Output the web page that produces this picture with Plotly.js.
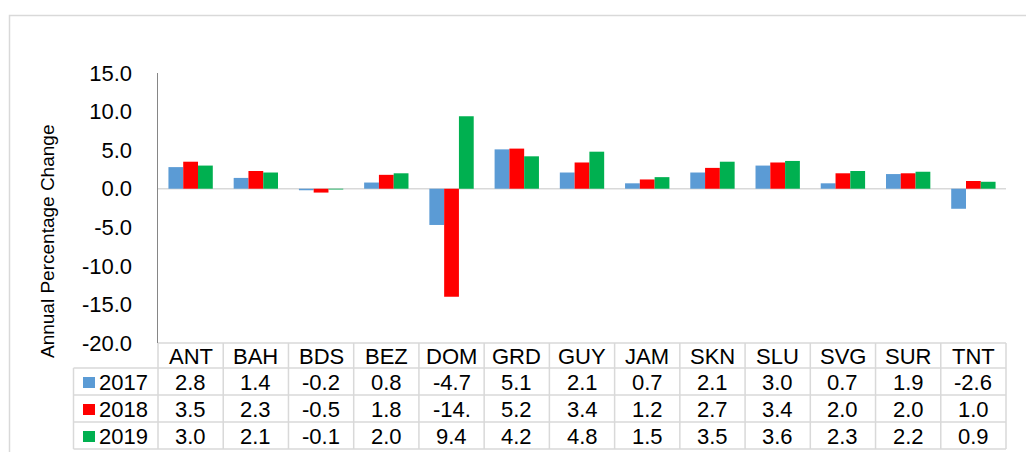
<!DOCTYPE html>
<html>
<head>
<meta charset="utf-8">
<script src="https://cdn.plot.ly/plotly-3.0.1.min.js"></script>
<style>html,body{margin:0;padding:0;background:#fff;}#chart{width:1026px;height:452px;}</style>
</head>
<body>
<div id="chart"></div>
<script>
// ---- data ----
const categories = ["ANT","BAH","BDS","BEZ","DOM","GRD","GUY","JAM","SKN","SLU","SVG","SUR","TNT"];
const seriesNames = ["2017","2018","2019"];
const values2017 = [2.8, 1.4, -0.2, 0.8, -4.7, 5.1, 2.1, 0.7, 2.1, 3.0, 0.7, 1.9, -2.6];
const values2018 = [3.5, 2.3, -0.5, 1.8, -14.0, 5.2, 3.4, 1.2, 2.7, 3.4, 2.0, 2.0, 1.0];
const values2019 = [3.0, 2.1, -0.1, 2.0, 9.4, 4.2, 4.8, 1.5, 3.5, 3.6, 2.3, 2.2, 0.9];
const seriesColors = ["#5B9BD5", "#FF0000", "#00B050"];
const yTickVals = [-20, -15, -10, -5, 0, 5, 10, 15];
const yTickText = ["-20.0", "-15.0", "-10.0", "-5.0", "0.0", "5.0", "10.0", "15.0"];
const yTitle = "Annual Percentage Change";

const allValues = [values2017, values2018, values2019];

// ---- layout geometry (pixels) ----
const W = 1026, H = 452;
const plotL = 158, plotR = 1006, plotT = 73, plotB = 343;
const pw = plotR - plotL, ph = plotB - plotT;
const px = p => (p - plotL) / pw;
const py = p => (plotB - p) / ph;
const rowEdges = [343, 368, 395, 422, 449];
const rowCenters = [356, 382, 409, 436];
const leftColX = 73.5;
const font = "Liberation Sans, Arial, sans-serif";
const gridCol = "#D9D9D9";
const fs = 22;

const traces = allValues.map((vals, k) => ({
  type: "bar",
  name: seriesNames[k],
  x: categories,
  y: vals,
  marker: {color: seriesColors[k]},
  hoverinfo: "x+y+name"
}));

const shapes = [];
const annotations = [];
const n = categories.length;

// outer frame
shapes.push({type: "rect", xref: "paper", yref: "paper",
  x0: px(9.5), x1: px(1040), y0: py(15.5), y1: py(470),
  line: {color: gridCol, width: 1.5}, fillcolor: "rgba(0,0,0,0)"});

// table horizontal lines
rowEdges.forEach((e, i) => {
  shapes.push({type: "line", xref: "paper", yref: "paper",
    x0: i === 0 ? 0 : px(leftColX), x1: 1, y0: py(e), y1: py(e),
    line: {color: gridCol, width: 1.5}});
});
// table vertical lines
for (let i = 0; i <= n; i++) {
  shapes.push({type: "line", xref: "paper", yref: "paper",
    x0: i / n, x1: i / n, y0: py(rowEdges[0]), y1: py(rowEdges[4]),
    line: {color: gridCol, width: 1.5}});
}
shapes.push({type: "line", xref: "paper", yref: "paper",
  x0: px(leftColX), x1: px(leftColX), y0: py(rowEdges[1]), y1: py(rowEdges[4]),
  line: {color: gridCol, width: 1.5}});

// zero line
shapes.push({type: "line", xref: "paper", yref: "y", x0: 0, x1: 1, y0: 0, y1: 0,
  line: {color: gridCol, width: 1.5}, layer: "below"});

// y title
annotations.push({xref: "paper", yref: "paper", x: px(47), y: py(241),
  text: yTitle, textangle: -90, showarrow: false, xanchor: "center", yanchor: "middle",
  font: {family: font, size: 19, color: "#000"}});

// header row
categories.forEach((c, i) => {
  annotations.push({xref: "x", yref: "paper", x: c, y: py(rowCenters[0]),
    text: c, showarrow: false, xanchor: "center", yanchor: "middle",
    font: {family: font, size: fs, color: "#000"}});
});
// data rows
const fmt = v => v.toFixed(1).slice(0, 4);
allValues.forEach((vals, k) => {
  vals.forEach((v, i) => {
    annotations.push({xref: "x", yref: "paper", x: categories[i], y: py(rowCenters[k + 1]),
      text: fmt(v), showarrow: false, xanchor: "center", yanchor: "middle",
      font: {family: font, size: fs, color: "#000"}});
  });
  annotations.push({xref: "paper", yref: "paper", x: px(97), y: py(rowCenters[k + 1]),
    text: seriesNames[k], showarrow: false, xanchor: "left", yanchor: "middle",
    font: {family: font, size: fs, color: "#000"}});
  shapes.push({type: "rect", xref: "paper", yref: "paper",
    x0: px(83), x1: px(95), y0: py(rowCenters[k + 1] - 5), y1: py(rowCenters[k + 1] + 6),
    line: {width: 0}, fillcolor: seriesColors[k]});
});

const layout = {
  width: W, height: H,
  margin: {l: plotL, r: W - plotR, t: plotT, b: H - plotB, pad: 0},
  paper_bgcolor: "#fff", plot_bgcolor: "#fff",
  barmode: "group", bargap: 0.32, bargroupgap: 0,
  showlegend: false,
  font: {family: font, color: "#000"},
  xaxis: {type: "category", showticklabels: false, ticks: "", showgrid: false,
    zeroline: false, showline: false, range: [-0.5, n - 0.5], fixedrange: true},
  yaxis: {range: [-20, 15], tickvals: yTickVals, ticktext: yTickText,
    ticks: "", showgrid: false, zeroline: false,
    showline: true, linecolor: "#868686", linewidth: 1.5,
    ticklabelstandoff: 20,
    tickfont: {family: font, size: fs, color: "#000"},
    automargin: false, fixedrange: true},
  shapes: shapes,
  annotations: annotations
};

Plotly.newPlot("chart", traces, layout, {displayModeBar: false, staticPlot: true});
</script>
</body>
</html>
